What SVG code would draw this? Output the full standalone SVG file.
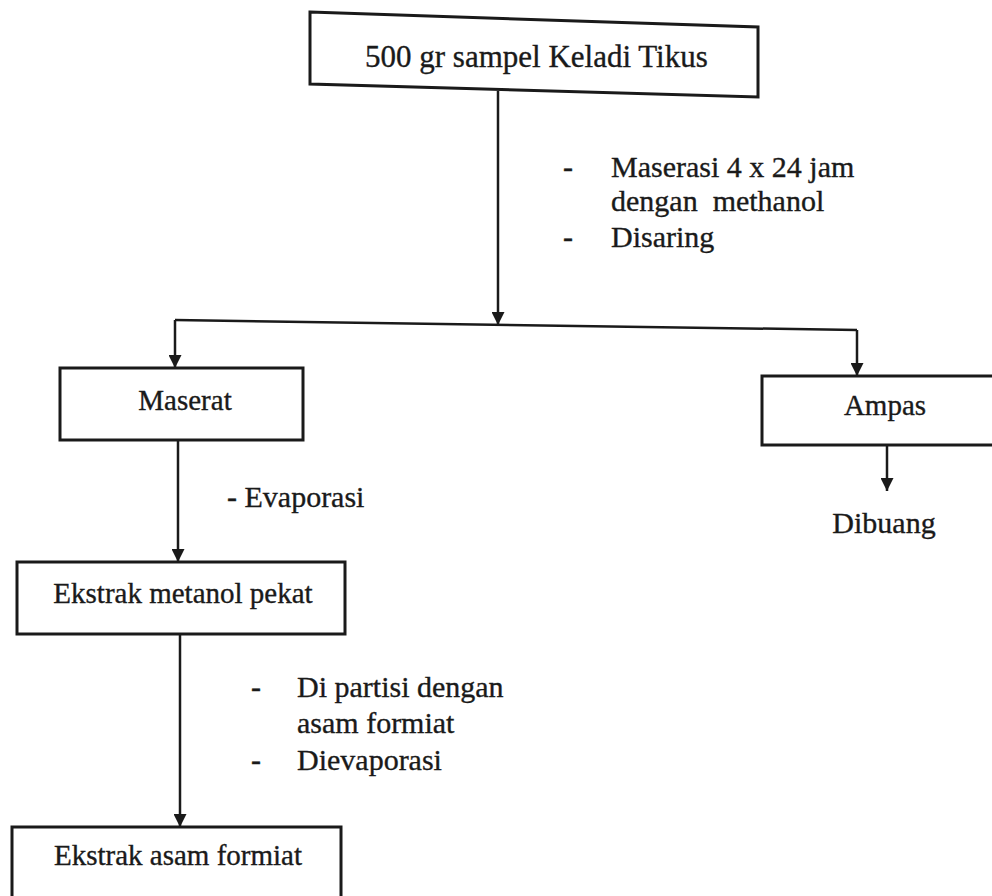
<svg xmlns="http://www.w3.org/2000/svg" width="992" height="896" viewBox="0 0 992 896" font-family="'Liberation Serif', 'Times New Roman', serif">
  <style>
    .box { fill: #ffffff; stroke: #1a1a1a; stroke-width: 3; }
    .line { fill: none; stroke: #1a1a1a; stroke-width: 2.5; }
    text { font-family: 'Liberation Serif', 'Times New Roman', serif; fill: #1a1a1a; stroke: #1a1a1a; stroke-width: 0.35; }
    .b { font-size: 29px; }
    .s { font-size: 30px; }
    .t { font-size: 31px; }
  </style>
  <defs>
    <marker id="arr" viewBox="0 0 10 10" refX="10" refY="5" markerWidth="14" markerHeight="13" markerUnits="userSpaceOnUse" orient="auto">
      <path d="M0,0 L10,5 L0,10 z" fill="#1a1a1a"/>
    </marker>
  </defs>
  <rect width="992" height="896" fill="#ffffff"/>

  <g id="connectors">
    <path class="line" d="M498,91 L498,325" marker-end="url(#arr)"/>
    <path class="line" d="M175,320 L857,330"/>
    <path class="line" d="M175,320 L175,368" marker-end="url(#arr)"/>
    <path class="line" d="M857,330 L857,376" marker-end="url(#arr)"/>
    <path class="line" d="M178,440 L178,562" marker-end="url(#arr)"/>
    <path class="line" d="M180,634 L180,827" marker-end="url(#arr)"/>
    <path class="line" d="M887,445 L887,491" marker-end="url(#arr)"/>
  </g>

  <g id="node-sampel">
    <polygon class="box" points="310,12 758,27 758,97 310,84"/>
    <text class="t" x="365" y="67">500 gr sampel Keladi Tikus</text>
  </g>

  <g id="label-maserasi">
    <text class="s" x="563" y="177">-</text>
    <text class="s" x="611" y="177">Maserasi 4 x 24 jam</text>
    <text class="s" x="611" y="211" xml:space="preserve">dengan  methanol</text>
    <text class="s" x="563" y="247">-</text>
    <text class="s" x="611" y="247">Disaring</text>
  </g>

  <g id="node-maserat">
    <rect class="box" x="60" y="368" width="243" height="72"/>
    <text class="b" x="185" y="410" text-anchor="middle">Maserat</text>
  </g>

  <g id="node-ampas">
    <rect class="box" x="762" y="376" width="240" height="69"/>
    <text class="b" x="885" y="415" text-anchor="middle">Ampas</text>
  </g>

  <g id="label-dibuang">
    <text class="s" x="884" y="533" text-anchor="middle">Dibuang</text>
  </g>

  <g id="label-evaporasi">
    <text class="s" x="227" y="507">- Evaporasi</text>
  </g>

  <g id="node-ekstrak-metanol">
    <rect class="box" x="17" y="562" width="328" height="72"/>
    <text class="b" x="183" y="603" text-anchor="middle">Ekstrak metanol pekat</text>
  </g>

  <g id="label-partisi">
    <text class="s" x="251" y="697">-</text>
    <text class="s" x="297" y="697">Di partisi dengan</text>
    <text class="s" x="297" y="733">asam formiat</text>
    <text class="s" x="251" y="770">-</text>
    <text class="s" x="297" y="770">Dievaporasi</text>
  </g>

  <g id="node-ekstrak-asam">
    <rect class="box" x="12" y="827" width="329" height="90"/>
    <text class="b" x="178" y="865" text-anchor="middle">Ekstrak asam formiat</text>
  </g>
</svg>
